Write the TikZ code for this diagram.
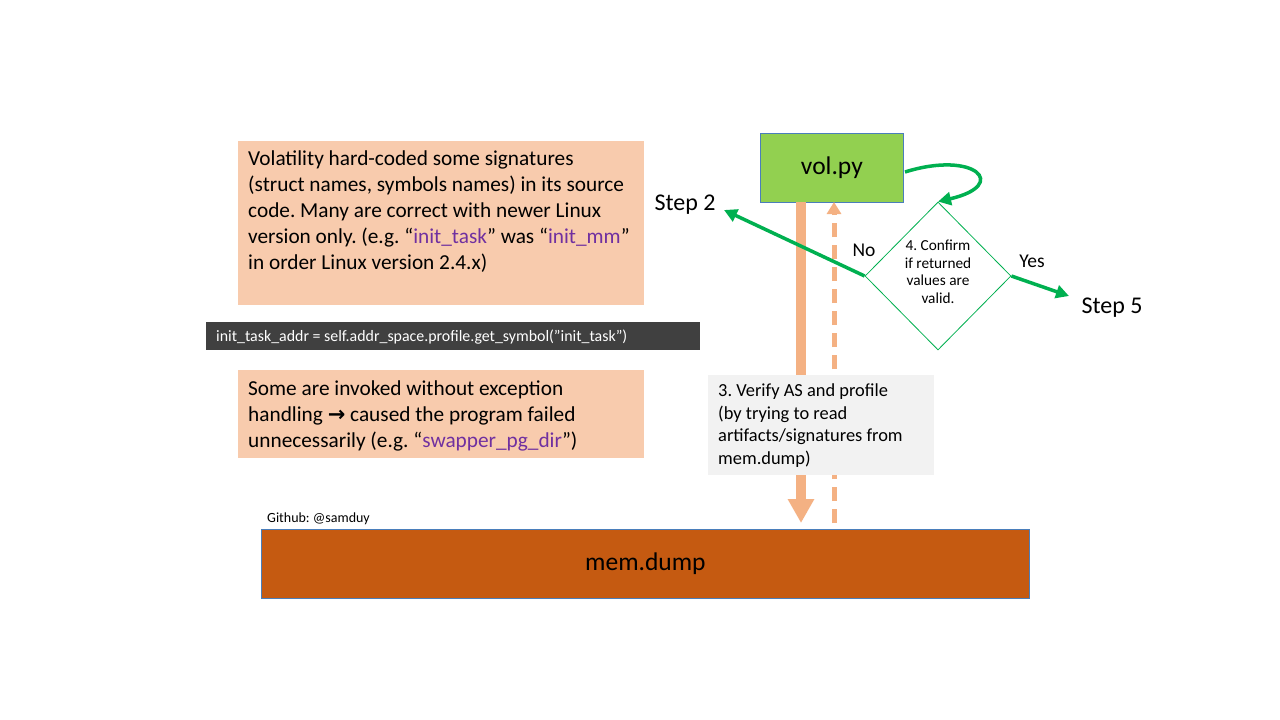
\documentclass[tikz,border=0pt]{standalone}
\usepackage{fontspec}
\setmainfont{Carlito}
\newfontfamily\symfont{DejaVu Sans}
\usetikzlibrary{arrows.meta,shapes.geometric}
\definecolor{peach}{HTML}{F8CBAD}
\definecolor{codebg}{HTML}{404040}
\definecolor{volgreen}{HTML}{92D050}
\definecolor{boxblue}{HTML}{4A7EBB}
\definecolor{arrgreen}{HTML}{00B050}
\definecolor{lineorange}{HTML}{F4B183}
\definecolor{lightgray}{HTML}{F2F2F2}
\definecolor{brown}{HTML}{C55A11}
\definecolor{purp}{HTML}{7030A0}
\newcommand{\pu}[1]{\textcolor{purp}{#1}}
\frenchspacing
\tikzset{
  peachbox/.style={fill=peach, draw=none, minimum width=406pt, anchor=north west, inner sep=0pt},
  bodytext/.style={anchor=north west, align=left, inner sep=0pt, font=\fontsize{21.3}{26}\selectfont},
  greenarrow/.style={draw=arrgreen, line width=3.5pt, -{Triangle[length=13pt,width=13pt]}},
  steplabel/.style={font=\fontsize{24}{26}\selectfont, inner sep=0pt},
}
\begin{document}
\begin{tikzpicture}[x=1pt,y=-1pt]
\useasboundingbox (0,0) rectangle (1280,720);
\fill[white] (0,0) rectangle (1280,720);

% left boxes
\node[peachbox, minimum height=164pt] (box1) at (238,141) {};
\node[bodytext] (t1) at (248,151) {Volatility hard-coded some signatures\\(struct names, symbols names) in its source\\code. Many are correct with newer Linux\\version only. (e.g. “\pu{init\_task}” was “\pu{init\_mm}”\\in order Linux version 2.4.x)};

\node[fill=codebg, minimum width=494pt, minimum height=28pt, anchor=north west, inner sep=0pt] (code) at (206,322) {};
\node[anchor=west, inner sep=0pt, text=white, font=\fontsize{15.9}{18}\selectfont] (codet) at (216,337) {init\_task\_addr = self.addr\_space.profile.get\_symbol("init\_task")};

\node[peachbox, minimum height=88pt] (box2) at (238,370) {};
\node[bodytext] (t2) at (248,381) {Some are invoked without exception\\handling {\symfont\bfseries\fontsize{21}{22}\selectfont →} caused the program failed\\unnecessarily (e.g. “\pu{swapper\_pg\_dir}”)};

% vol.py and mem.dump
\node[fill=volgreen, draw=boxblue, line width=0.8pt, minimum width=143pt, minimum height=69pt, anchor=north west, inner sep=0pt, font=\fontsize{25.5}{28}\selectfont] (volpy) at (760,133) {\raisebox{-2pt}{vol.py}};
\node[fill=brown, draw=boxblue, line width=0.8pt, minimum width=768pt, minimum height=69pt, anchor=north west, inner sep=0pt, font=\fontsize{25.5}{28}\selectfont] (mem) at (261,529) {\raisebox{-2pt}{mem.dump}};
\node[anchor=south west, inner sep=0pt, font=\fontsize{14}{16}\selectfont] (gh) at (267,525) {Github: @samduy};

% orange arrows
\coordinate (sTop) at (801,202);
\coordinate (sBot) at (801,523);
\coordinate (dTop) at (834,202);
\coordinate (dBot) at (834,523);
\draw[draw=lineorange, line width=10pt, -{Triangle[length=24pt,width=25pt]}] (sTop) -- (sBot);
\draw[draw=lineorange, line width=5pt, dash pattern=on 14pt off 8pt, -{Triangle[length=12pt,width=14pt]}] (dBot) -- (dTop);

% gray box
\node[fill=lightgray, minimum width=226pt, minimum height=100pt, anchor=north west, inner sep=0pt] (vbox) at (708,375) {};
\node[anchor=north west, align=left, inner sep=0pt, font=\fontsize{18.4}{22.5}\selectfont] (vt) at (718,384) {3. Verify AS and profile\\(by trying to read\\artifacts/signatures from\\mem.dump)};

% diamond
\node[diamond, draw=arrgreen, line width=0.8pt, fill=white, minimum width=146pt, minimum height=148pt, inner sep=0pt, aspect=0.98] (dia) at (938,276) {};
\node[align=center, inner sep=0pt, font=\fontsize{15.3}{17.5}\selectfont] (diat) at (938,272) {4. Confirm\\if returned\\values are\\valid.};

% labels
\node[steplabel] (step2) at (685,205) {Step 2};
\node[steplabel] (step5) at (1112,308) {Step 5};
\node[font=\fontsize{19.5}{22}\selectfont, inner sep=0pt] (no) at (864,250) {No};
\node[font=\fontsize{19.5}{22}\selectfont, inner sep=0pt] (yes) at (1032,261) {Yes};
\coordinate (s2end) at (724,210);
\coordinate (s5end) at (1069,296);

% green arrows
\draw[greenarrow] (dia.west) -- (s2end);
\draw[greenarrow] (dia.east) -- (s5end);
\coordinate (loopstart) at (905,172);
\draw[greenarrow] (loopstart) .. controls (975,150) and (1010,185) .. (dia.north);
\end{tikzpicture}
\end{document}
